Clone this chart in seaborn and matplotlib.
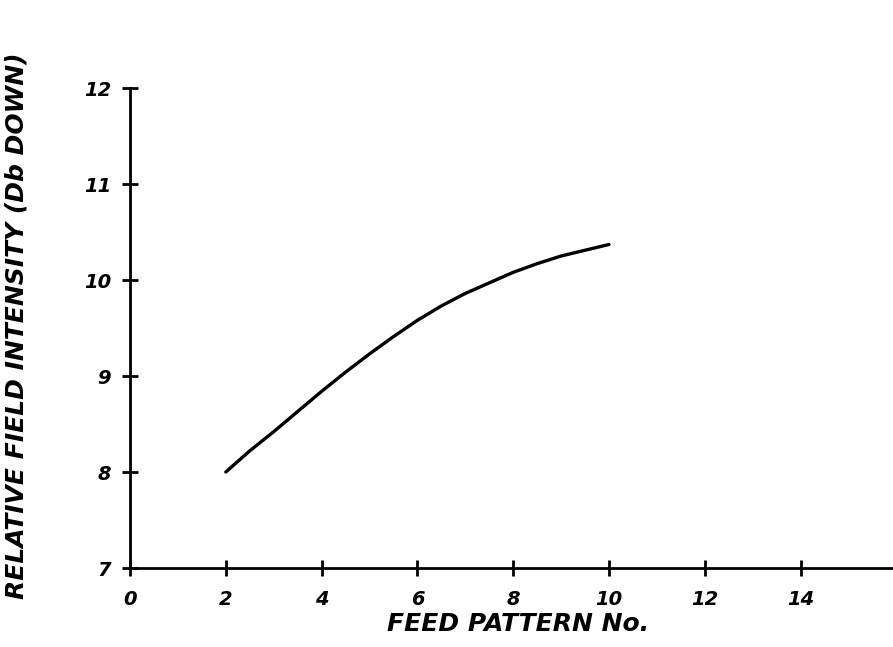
import seaborn as sns
import matplotlib.pyplot as plt
import pandas as pd

feed_pattern = [2, 2.5, 3, 3.5, 4, 4.5, 5, 5.5, 6, 6.5, 7, 7.5, 8, 8.5, 9, 9.5, 10]
intensity_db = [8.00, 8.22, 8.42, 8.63, 8.84, 9.04, 9.23, 9.41, 9.58,
                9.73, 9.86, 9.97, 10.08, 10.17, 10.25, 10.31, 10.37]
x_ticks = [0, 2, 4, 6, 8, 10, 12, 14]
y_ticks = [7, 8, 9, 10, 11, 12]
x_label = "FEED PATTERN No."
y_label = "RELATIVE FIELD INTENSITY (Db DOWN)"


def main():
    sns.set_style("ticks")
    plt.rcParams['font.family'] = ['DejaVu Sans']
    plt.rcParams['text.color'] = 'black'
    plt.rcParams['xtick.color'] = 'black'
    plt.rcParams['ytick.color'] = 'black'
    plt.rcParams['axes.labelcolor'] = 'black'

    data = pd.DataFrame({'feed': feed_pattern, 'db': intensity_db})

    fig = plt.figure(figsize=(8.93, 6.47), dpi=100)
    W, H = 893, 647
    ax = fig.add_axes([130 / W, (H - 568) / H, (W - 130) / W, 480 / H])

    sns.lineplot(data=data, x='feed', y='db', color='black', linewidth=2.4, ax=ax)

    ax.set_xlim(0, 763 / 47.9)
    ax.set_ylim(7, 12)
    ax.set_xticks(x_ticks)
    ax.set_yticks(y_ticks)

    for side in ['top', 'right']:
        ax.spines[side].set_visible(False)
    for side in ['left', 'bottom']:
        ax.spines[side].set_linewidth(2.0)
        ax.spines[side].set_color('black')

    ax.tick_params(direction='inout', length=11, width=2, labelsize=14)
    ax.tick_params(axis='y', pad=8)
    ax.tick_params(axis='x', pad=10)
    for lab in ax.get_xticklabels() + ax.get_yticklabels():
        lab.set_style('italic')
        lab.set_weight('bold')

    ax.set_xlabel(x_label, fontsize=18, style='italic', weight='bold')
    ax.set_ylabel(y_label, fontsize=18, style='italic', weight='bold')
    ax.xaxis.set_label_coords((518 - 130) / 763, -(612 - 568) / 480)
    ax.yaxis.set_label_coords(-(130 - 29) / 763, (568 - 326) / 480)

    plt.savefig('out.png', dpi=100)


if __name__ == '__main__':
    main()
